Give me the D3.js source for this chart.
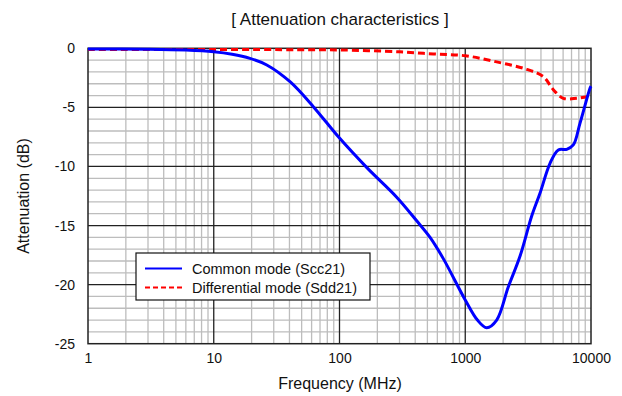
<!DOCTYPE html>
<html lang="en">
<head>
  <meta charset="UTF-8">
  <title>Attenuation characteristics</title>
  <style>
    html, body {
      background-color: #ffffff;
      margin: 0;
    }
    svg {
      display: block;
      font-family: "Liberation Sans", Arial, sans-serif;
    }
  </style>
</head>
<body>
  <svg id="chart" width="622" height="396"></svg>

  <script src="https://cdnjs.cloudflare.com/ajax/libs/d3/7.8.5/d3.min.js"></script>
  <script>
    // values (frequency in MHz, attenuation in dB)
    const commonFreq = [1, 3, 6, 10, 14, 19.4, 26.4, 40.4, 61.9, 100, 165, 285, 411, 525, 669, 1000, 1250, 1480, 1778, 2198, 2724, 3377, 3929, 4722, 5497, 6408, 7231, 8170, 9816, 10000];
    const commonDb = [-0.05, -0.08, -0.15, -0.29, -0.5, -0.85, -1.41, -2.83, -4.94, -7.6, -10.1, -12.6, -14.6, -16.0, -17.8, -21.3, -23.0, -23.65, -23.0, -20.2, -17.6, -14.2, -12.27, -9.73, -8.6, -8.55, -8.18, -6.35, -3.38, -3.2];
    const diffFreq = [1, 10, 48.5, 100, 302, 557, 1000, 1778, 3083, 4180, 5016, 6026, 7690, 9816, 10000];
    const diffDb = [-0.1, -0.1, -0.12, -0.14, -0.3, -0.48, -0.63, -1.15, -1.78, -2.4, -3.5, -4.23, -4.23, -4.03, -4.0];
    const xTicks = [1, 10, 100, 1000, 10000];
    const yTicks = [0, -5, -10, -15, -20, -25];
    const seriesNames = ['Common mode (Scc21)', 'Differential mode (Sdd21)'];

    const svg = d3.select('#chart');
    const margin = { left: 88, right: 31, top: 48.3, bottom: 52.3 };
    const width = 622 - margin.left - margin.right;
    const height = 396 - margin.top - margin.bottom;

    const x = d3.scaleLog().domain([1, 10000]).range([0, width]);
    const y = d3.scaleLinear().domain([-25, 0]).range([height, 0]);

    const g = svg.append('g').attr('transform', `translate(${margin.left},${margin.top})`);

    // minor grid
    const minorX = [];
    xTicks.slice(0, -1).forEach(d => { for (let k = 2; k <= 9; k++) minorX.push(d * k); });
    const minorY = d3.range(-24, 0).filter(d => d % 5 !== 0);

    g.append('g').selectAll('line').data(minorX).join('line')
      .attr('x1', d => x(d)).attr('x2', d => x(d))
      .attr('y1', 0).attr('y2', height)
      .attr('stroke', '#bdbdbd').attr('stroke-width', 1.3);
    g.append('g').selectAll('line').data(minorY).join('line')
      .attr('x1', 0).attr('x2', width)
      .attr('y1', d => y(d)).attr('y2', d => y(d))
      .attr('stroke', '#bdbdbd').attr('stroke-width', 1.3);

    // major grid
    g.append('g').selectAll('line').data(xTicks.slice(1, -1)).join('line')
      .attr('x1', d => x(d)).attr('x2', d => x(d))
      .attr('y1', 0).attr('y2', height)
      .attr('stroke', '#222').attr('stroke-width', 1.3);
    g.append('g').selectAll('line').data(yTicks.slice(1, -1)).join('line')
      .attr('x1', 0).attr('x2', width)
      .attr('y1', d => y(d)).attr('y2', d => y(d))
      .attr('stroke', '#222').attr('stroke-width', 1.3);

    g.append('rect')
      .attr('width', width).attr('height', height)
      .attr('fill', 'none').attr('stroke', '#222').attr('stroke-width', 1.5);

    // axes (labels only)
    const xAxis = g.append('g')
      .attr('transform', `translate(0,${height})`)
      .call(d3.axisBottom(x).tickValues(xTicks).tickFormat(d3.format('d')).tickSize(0).tickPadding(9));
    const yAxis = g.append('g')
      .call(d3.axisLeft(y).tickValues(yTicks).tickFormat(d => d).tickSize(0).tickPadding(13));
    [xAxis, yAxis].forEach(a => {
      a.select('.domain').remove();
      a.selectAll('text')
        .attr('font-family', '"Liberation Sans", Arial, sans-serif')
        .attr('font-size', 14).attr('fill', '#111');
    });

    // curves
    const line = d3.line()
      .x(d => x(d[0]))
      .y(d => y(d[1]))
      .curve(d3.curveCatmullRom.alpha(0.5));

    g.append('clipPath').attr('id', 'plot-clip')
      .append('rect').attr('x', -2).attr('y', -3).attr('width', width + 4).attr('height', height + 4);

    g.append('path')
      .datum(d3.zip(diffFreq, diffDb))
      .attr('d', line)
      .attr('clip-path', 'url(#plot-clip)')
      .attr('fill', 'none').attr('stroke', '#ff0000')
      .attr('stroke-width', 3).attr('stroke-dasharray', '7,4');

    g.append('path')
      .datum(d3.zip(commonFreq, commonDb))
      .attr('d', line)
      .attr('clip-path', 'url(#plot-clip)')
      .attr('fill', 'none').attr('stroke', '#0000ff')
      .attr('stroke-width', 3);

    // legend
    const legend = svg.append('g').attr('transform', 'translate(136,253)');
    legend.append('rect')
      .attr('width', 234).attr('height', 47)
      .attr('fill', '#fff').attr('stroke', '#111').attr('stroke-width', 1.2);
    const legendStyles = [
      { color: '#0000ff', dash: null },
      { color: '#ff0000', dash: '5,3' }
    ];
    seriesNames.forEach((name, i) => {
      const row = legend.append('g').attr('transform', `translate(0,${15.5 + i * 19})`);
      row.append('line')
        .attr('x1', 9).attr('x2', 46)
        .attr('stroke', legendStyles[i].color).attr('stroke-width', 2)
        .attr('stroke-dasharray', legendStyles[i].dash);
      row.append('text')
        .attr('x', 56).attr('y', 5)
        .attr('font-size', 14.5).attr('fill', '#111')
        .text(name);
    });

    // titles
    svg.append('text')
      .attr('x', 340).attr('y', 25)
      .attr('text-anchor', 'middle')
      .attr('font-size', 17).attr('fill', '#111')
      .text('[ Attenuation characteristics ]');
    svg.append('text')
      .attr('x', 340).attr('y', 389)
      .attr('text-anchor', 'middle')
      .attr('font-size', 16).attr('fill', '#111')
      .text('Frequency (MHz)');
    svg.append('text')
      .attr('transform', 'translate(29,196) rotate(-90)')
      .attr('text-anchor', 'middle')
      .attr('font-size', 16).attr('fill', '#111')
      .text('Attenuation (dB)');
  </script>
</body>
</html>
